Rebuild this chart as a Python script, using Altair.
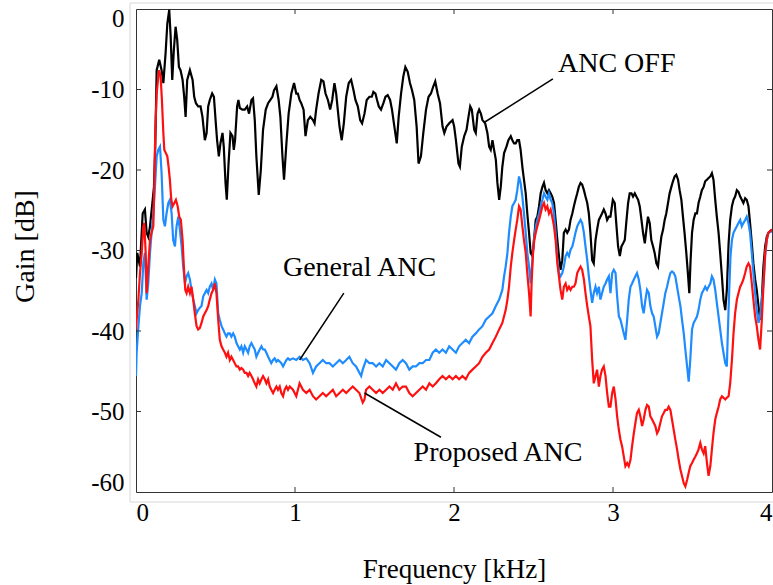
import altair as alt
import pandas as pd

# ---------------- data ----------------
off_freq = [
    0.000, 0.008, 0.025, 0.042, 0.056, 0.067, 0.077, 0.088, 0.105, 0.113, 0.121, 0.130, 0.146, 0.161, 0.172,
    0.186, 0.197, 0.209, 0.218, 0.228, 0.238, 0.249, 0.259, 0.270, 0.280, 0.293, 0.303, 0.312, 0.322, 0.339,
    0.356, 0.366, 0.377, 0.391, 0.406, 0.418, 0.433, 0.444, 0.454, 0.464, 0.479, 0.490, 0.502, 0.510, 0.521,
    0.531, 0.544, 0.552, 0.563, 0.571, 0.582, 0.594, 0.607, 0.615, 0.623, 0.636, 0.644, 0.653, 0.669, 0.684,
    0.699, 0.711, 0.726, 0.736, 0.747, 0.757, 0.772, 0.785, 0.799, 0.816, 0.831, 0.845, 0.858, 0.868, 0.883,
    0.897, 0.908, 0.921, 0.931, 0.946, 0.960, 0.977, 0.994, 1.008,
    1.018, 1.029, 1.039, 1.054, 1.066, 1.081, 1.096, 1.113, 1.123, 1.133, 1.148, 1.165, 1.179, 1.192, 1.207,
    1.221, 1.234, 1.248, 1.259, 1.269, 1.280, 1.294, 1.307, 1.322, 1.338, 1.353, 1.368, 1.380, 1.395, 1.410,
    1.422, 1.437, 1.451, 1.468, 1.483, 1.493, 1.506, 1.516, 1.527, 1.541, 1.556, 1.569, 1.583, 1.598, 1.610,
    1.625, 1.640, 1.652, 1.667, 1.681, 1.694, 1.709, 1.723, 1.736, 1.750, 1.765, 1.777, 1.792, 1.807, 1.824,
    1.840, 1.855, 1.870, 1.882, 1.897, 1.912, 1.928, 1.939, 1.953, 1.970,
    1.991, 2.001, 2.012, 2.028, 2.037, 2.049, 2.064, 2.079, 2.091, 2.102, 2.112, 2.127, 2.137, 2.148, 2.158,
    2.169, 2.179, 2.196, 2.210, 2.221, 2.231, 2.242, 2.252, 2.263, 2.273, 2.284, 2.294, 2.304, 2.315, 2.330,
    2.342, 2.357, 2.367, 2.378, 2.388, 2.398, 2.409, 2.419, 2.430, 2.440, 2.451, 2.461, 2.472, 2.482, 2.493,
    2.503, 2.514, 2.524, 2.535, 2.545, 2.556, 2.566, 2.576, 2.587, 2.597, 2.608, 2.618, 2.629, 2.639, 2.650,
    2.660, 2.670, 2.681, 2.691, 2.702, 2.712, 2.723, 2.733, 2.744, 2.754, 2.764, 2.775, 2.785, 2.796, 2.806,
    2.817, 2.827, 2.838, 2.848, 2.858, 2.869, 2.879, 2.890, 2.900, 2.911, 2.921, 2.931, 2.942, 2.953, 2.963,
    2.974,
    2.984, 2.999, 3.011, 3.022, 3.032, 3.043, 3.053, 3.064, 3.074, 3.085, 3.095, 3.105, 3.116, 3.126, 3.137,
    3.147, 3.158, 3.168, 3.179, 3.189, 3.200, 3.210, 3.220, 3.231, 3.241, 3.252, 3.262, 3.273, 3.283, 3.294,
    3.304, 3.315, 3.325, 3.335, 3.346, 3.356, 3.367, 3.377, 3.388, 3.398, 3.409, 3.419, 3.430, 3.440, 3.450,
    3.461, 3.471, 3.480, 3.488, 3.497, 3.507, 3.518, 3.528, 3.538, 3.549, 3.559, 3.570, 3.580, 3.591, 3.601,
    3.612, 3.622, 3.632, 3.643, 3.653, 3.664, 3.674, 3.685, 3.695, 3.706, 3.716, 3.727, 3.737, 3.748, 3.758,
    3.768, 3.779, 3.789, 3.800, 3.810, 3.820, 3.831, 3.841, 3.852, 3.862, 3.873, 3.883, 3.894, 3.904, 3.915,
    3.925, 3.936, 3.946, 3.957, 3.967, 3.977, 4.000,
]
off_gain = [
    -33.4, -30.3, -32.0, -25.4, -24.9, -27.8, -28.3, -27.0, -23.7, -22.1, -17.1, -7.6, -6.3, -7.6, -9.2,
    -5.5, -1.8, -0.1, -3.4, -8.8, -5.1, -2.2, -3.8, -7.2, -7.6, -8.8, -10.9, -13.4, -8.8, -7.6,
    -8.8, -10.9, -11.7, -12.1, -12.1, -13.4, -16.3, -15.4, -12.1, -11.3, -10.5, -10.9, -14.2, -16.3, -18.3,
    -16.7, -15.4, -17.1, -21.6, -23.7, -19.2, -15.4, -15.8, -17.5, -16.3, -12.1, -11.3, -12.3, -12.5, -12.5,
    -12.1, -13.0, -11.3, -11.1, -13.8, -18.3, -23.1, -20.0, -15.0, -12.5, -11.7, -11.3, -10.9, -10.1, -9.6,
    -11.3, -13.4, -18.3, -21.2, -16.7, -13.0, -10.5, -9.2, -10.5,
    -10.5, -11.3, -11.7, -12.5, -15.8, -13.8, -13.4, -13.8, -14.2, -12.5, -10.5, -8.8, -9.0, -10.5, -11.3,
    -12.5, -11.3, -9.2, -10.5, -12.5, -14.6, -16.3, -14.2, -10.9, -9.2, -8.8, -10.1, -11.3, -12.1, -13.8,
    -14.2, -13.0, -11.3, -10.9, -10.9, -10.3, -10.5, -11.3, -12.1, -12.5, -11.7, -10.9, -10.7, -11.3, -12.5,
    -14.6, -16.7, -13.4, -10.5, -8.4, -7.2, -7.8, -9.2, -10.1, -11.3, -14.6, -19.2, -18.3, -15.4, -12.5,
    -10.9, -10.5, -9.6, -9.0, -10.5, -11.7, -14.6, -15.4, -14.6, -14.2,
    -13.8, -14.6, -16.3, -19.2, -19.6, -17.1, -15.8, -15.0, -13.4, -12.1, -12.5, -15.0, -15.4, -13.0, -12.5,
    -13.0, -13.8, -14.2, -15.4, -17.1, -17.5, -16.3, -17.5, -18.7, -21.6, -23.7, -22.1, -19.6, -17.9, -17.1,
    -16.3, -15.8, -16.3, -16.7, -16.7, -16.3, -16.3, -17.5, -19.6, -21.2, -22.9, -25.4, -27.8, -30.3, -30.7,
    -28.7, -26.2, -25.8, -24.5, -22.9, -22.1, -21.6, -22.5, -22.9, -22.5, -22.9, -23.3, -24.1, -26.2, -28.7,
    -30.7, -32.4, -31.2, -27.8, -27.4, -27.8, -27.4, -26.2, -25.4, -24.5, -23.7, -22.9, -22.1, -21.6, -21.8,
    -22.5, -23.3, -24.1, -25.4, -27.8, -31.2, -31.6, -28.7, -27.4, -26.2, -25.8, -25.4, -24.9, -25.4, -26.2,
    -25.8,
    -25.8, -23.7, -24.1, -27.0, -29.5, -30.7, -29.5, -29.1, -28.7, -26.2, -24.1, -22.9, -22.9, -23.3, -22.9,
    -23.3, -23.7, -24.5, -26.2, -27.8, -29.1, -27.4, -25.8, -26.6, -28.7, -29.5, -30.3, -31.6, -32.0, -29.9,
    -28.3, -27.4, -26.2, -25.4, -24.1, -22.9, -22.1, -21.4, -20.8, -20.6, -21.2, -22.5, -23.7, -25.8, -27.8,
    -30.3, -32.8, -35.3, -31.2, -27.8, -26.2, -25.4, -25.4, -24.1, -23.3, -22.5, -22.1, -21.4, -21.2, -21.0,
    -20.8, -20.4, -21.2, -23.7, -25.8, -27.8, -30.3, -33.2, -36.1, -37.4, -34.9, -29.1, -26.2, -24.5, -23.7,
    -23.3, -22.5, -22.7, -23.3, -23.7, -24.1, -23.5, -23.7, -24.5, -26.6, -29.1, -31.6, -33.6, -34.9, -36.9,
    -38.6, -36.1, -32.0, -29.5, -28.3, -27.8, -27.4,
]

general_freq = [
    0.000, 0.004, 0.015, 0.025, 0.036, 0.046, 0.056, 0.067, 0.077, 0.088, 0.098, 0.109, 0.119, 0.130, 0.140,
    0.151, 0.161, 0.172, 0.182, 0.192, 0.203, 0.213, 0.224, 0.234, 0.245, 0.255, 0.266, 0.276, 0.287, 0.297,
    0.308, 0.318, 0.328, 0.339, 0.349, 0.360, 0.370, 0.381, 0.391, 0.402, 0.412, 0.423, 0.433, 0.444, 0.454,
    0.464, 0.475, 0.485, 0.496, 0.506, 0.517, 0.527, 0.538, 0.548, 0.559, 0.569, 0.579, 0.590, 0.600, 0.611,
    0.621, 0.632, 0.642, 0.653, 0.663, 0.674, 0.684, 0.695, 0.705, 0.715, 0.726, 0.736, 0.747, 0.757, 0.768,
    0.778, 0.789, 0.799, 0.810, 0.820, 0.831, 0.841, 0.851, 0.862, 0.872, 0.883, 0.893, 0.904, 0.914, 0.925,
    0.935, 0.946, 0.956, 0.967, 0.987, 1.008,
    1.029, 1.050, 1.071, 1.092, 1.113, 1.133, 1.154, 1.175, 1.196, 1.217, 1.238, 1.259, 1.280, 1.301, 1.322,
    1.342, 1.363, 1.384, 1.405, 1.416, 1.426, 1.447, 1.468, 1.489, 1.510, 1.531, 1.552, 1.573, 1.594, 1.615,
    1.635, 1.656, 1.677, 1.698, 1.719, 1.740, 1.761, 1.782, 1.803, 1.824, 1.845, 1.866, 1.886, 1.907, 1.928,
    1.949, 1.970,
    2.012, 2.032, 2.053, 2.074, 2.095, 2.116, 2.137, 2.158, 2.179, 2.200, 2.221, 2.242, 2.263, 2.284, 2.304,
    2.315, 2.325, 2.336, 2.346, 2.357, 2.367, 2.378, 2.388, 2.398, 2.409, 2.419, 2.430, 2.440, 2.451, 2.461,
    2.472, 2.482, 2.493, 2.503, 2.514, 2.524, 2.535, 2.545, 2.556, 2.566, 2.576, 2.587, 2.597, 2.608, 2.618,
    2.629, 2.639, 2.650, 2.660, 2.670, 2.681, 2.691, 2.702, 2.712, 2.723, 2.733, 2.744, 2.754, 2.764, 2.775,
    2.785, 2.796, 2.806, 2.817, 2.827, 2.838, 2.848, 2.858, 2.869, 2.879, 2.890, 2.900, 2.911, 2.921, 2.931,
    2.942, 2.953, 2.963, 2.974,
    2.984, 2.995, 3.005, 3.016, 3.026, 3.037, 3.047, 3.057, 3.068, 3.078, 3.089, 3.099, 3.110, 3.120, 3.131,
    3.141, 3.151, 3.162, 3.172, 3.183, 3.193, 3.204, 3.214, 3.225, 3.235, 3.246, 3.256, 3.266, 3.277, 3.287,
    3.298, 3.308, 3.319, 3.329, 3.340, 3.350, 3.361, 3.371, 3.382, 3.392, 3.403, 3.413, 3.424, 3.434, 3.445,
    3.455, 3.466, 3.476, 3.486, 3.497, 3.507, 3.518, 3.528, 3.538, 3.549, 3.559, 3.570, 3.580, 3.591, 3.601,
    3.612, 3.622, 3.632, 3.643, 3.653, 3.664, 3.674, 3.685, 3.695, 3.706, 3.716, 3.722, 3.731, 3.739, 3.748,
    3.758, 3.768, 3.779, 3.789, 3.800, 3.810, 3.820, 3.831, 3.841, 3.852, 3.862, 3.873, 3.883, 3.894, 3.904,
    3.915, 3.925, 3.936, 3.946, 3.957, 3.967, 3.977, 4.000,
]
general_gain = [
    -45.6, -42.7, -39.4, -36.9, -35.3, -31.6, -30.3, -36.1, -34.1, -30.3, -27.8, -25.4, -22.1, -18.3, -17.5,
    -17.1, -20.4, -26.2, -27.0, -25.4, -24.1, -23.7, -25.4, -28.7, -29.5, -27.0, -25.8, -27.4, -29.5, -32.0,
    -34.1, -33.2, -32.8, -33.6, -34.9, -36.1, -36.9, -37.8, -37.4, -37.1, -36.9, -35.7, -35.3, -34.9, -35.3,
    -34.5, -34.1, -34.9, -33.6, -34.1, -37.8, -38.6, -39.4, -39.8, -40.3, -40.7, -40.3, -40.3, -40.7, -40.3,
    -40.7, -41.5, -41.9, -42.3, -41.9, -42.7, -41.9, -42.3, -42.7, -41.9, -41.5, -41.9, -42.3, -43.2, -42.7,
    -42.3, -41.9, -42.3, -42.3, -42.7, -43.2, -43.6, -44.0, -43.6, -43.4, -43.8, -43.6, -43.8, -44.0, -44.4,
    -44.0, -43.6, -43.4, -43.6, -43.4, -43.6,
    -43.2, -43.6, -43.4, -44.0, -45.2, -44.4, -44.0, -43.6, -44.0, -44.0, -44.4, -44.0, -43.6, -44.0, -43.6,
    -43.2, -44.0, -44.4, -45.2, -45.6, -44.8, -43.6, -44.0, -44.0, -44.4, -44.0, -44.4, -43.6, -44.0, -44.4,
    -44.8, -44.0, -43.6, -44.0, -44.8, -44.4, -44.4, -44.0, -44.0, -43.6, -43.6, -42.7, -42.3, -42.7, -42.3,
    -42.7, -41.9,
    -42.7, -41.9, -41.5, -41.1, -41.5, -40.7, -40.3, -39.8, -39.4, -38.6, -38.2, -37.8, -36.9, -36.1, -34.9,
    -33.2, -32.0, -30.3, -27.8, -25.8, -24.5, -24.1, -23.7, -22.5, -20.8, -21.6, -23.3, -25.4, -27.8, -30.3,
    -32.0, -34.1, -31.2, -28.7, -27.0, -26.2, -25.4, -24.5, -23.7, -22.9, -23.3, -23.7, -22.9, -23.7, -24.1,
    -25.4, -27.8, -31.2, -32.8, -33.2, -32.8, -32.0, -30.7, -30.3, -30.7, -29.9, -29.5, -28.7, -27.8, -27.0,
    -26.6, -26.2, -26.6, -27.8, -29.5, -31.2, -33.2, -34.9, -36.5, -35.3, -34.5, -35.3, -34.5, -36.1, -35.3,
    -34.5, -34.1, -33.6, -33.2,
    -35.3, -32.8, -32.4, -32.8, -35.7, -38.2, -38.6, -39.4, -40.3, -41.1, -38.6, -36.1, -34.5, -34.1, -33.6,
    -33.2, -32.8, -33.6, -34.9, -36.9, -37.8, -36.1, -34.9, -35.3, -36.9, -37.8, -38.2, -39.4, -40.7, -40.3,
    -39.0, -37.8, -36.5, -35.3, -34.5, -33.6, -32.8, -32.6, -32.8, -33.2, -34.5, -35.7, -36.9, -38.6, -40.3,
    -42.3, -44.4, -46.3, -43.6, -39.8, -39.0, -38.6, -38.2, -37.4, -36.1, -35.3, -34.9, -34.5, -34.9, -34.5,
    -34.1, -33.2, -33.6, -34.9, -36.5, -38.2, -39.8, -41.5, -42.7, -44.0, -44.4, -40.3, -34.9, -30.7, -28.7,
    -27.8, -27.4, -27.0, -26.6, -26.2, -27.0, -26.6, -26.2, -25.8, -26.6, -27.8, -30.3, -32.8, -35.3, -37.4,
    -39.0, -38.2, -36.1, -34.1, -30.7, -28.7, -27.8, -27.6,
]

proposed_freq = [
    0.000, 0.004, 0.015, 0.025, 0.036, 0.046, 0.052, 0.061, 0.067, 0.077, 0.088, 0.098, 0.109, 0.115, 0.121,
    0.130, 0.140, 0.146, 0.155, 0.163, 0.172, 0.178, 0.188, 0.197, 0.205, 0.213, 0.222, 0.230, 0.241, 0.251,
    0.262, 0.272, 0.282, 0.293, 0.301, 0.310, 0.318, 0.328, 0.339, 0.349, 0.360, 0.370, 0.381, 0.391, 0.402,
    0.412, 0.423, 0.433, 0.444, 0.454, 0.464, 0.475, 0.485, 0.496, 0.506, 0.517, 0.527, 0.538, 0.548, 0.559,
    0.569, 0.579, 0.590, 0.600, 0.611, 0.621, 0.632, 0.642, 0.653, 0.663, 0.674, 0.684, 0.695, 0.705, 0.715,
    0.726, 0.736, 0.747, 0.757, 0.768, 0.778, 0.789, 0.799, 0.810, 0.820, 0.831, 0.841, 0.851, 0.862, 0.872,
    0.883, 0.893, 0.904, 0.914, 0.925, 0.935, 0.946, 0.956, 0.967, 0.987, 1.008,
    1.029, 1.050, 1.071, 1.092, 1.113, 1.133, 1.154, 1.175, 1.196, 1.217, 1.238, 1.259, 1.280, 1.301, 1.322,
    1.342, 1.363, 1.384, 1.405, 1.426, 1.437, 1.447, 1.468, 1.489, 1.510, 1.531, 1.552, 1.573, 1.594, 1.615,
    1.635, 1.656, 1.677, 1.698, 1.719, 1.740, 1.761, 1.782, 1.803, 1.824, 1.845, 1.866, 1.886, 1.907, 1.928,
    1.949, 1.970,
    1.991, 2.012, 2.032, 2.053, 2.074, 2.095, 2.116, 2.137, 2.158, 2.179, 2.200, 2.221, 2.242, 2.263, 2.284,
    2.304, 2.325, 2.336, 2.346, 2.357, 2.367, 2.378, 2.388, 2.398, 2.409, 2.419, 2.430, 2.440, 2.451, 2.461,
    2.472, 2.482, 2.488, 2.497, 2.505, 2.514, 2.524, 2.535, 2.545, 2.556, 2.566, 2.576, 2.587, 2.597, 2.608,
    2.618, 2.629, 2.639, 2.650, 2.660, 2.670, 2.681, 2.691, 2.702, 2.712, 2.723, 2.733, 2.744, 2.754, 2.764,
    2.775, 2.785, 2.796, 2.806, 2.817, 2.827, 2.838, 2.848, 2.858, 2.869, 2.879, 2.890, 2.900, 2.911, 2.921,
    2.931, 2.942, 2.953, 2.963, 2.974,
    2.984, 2.995, 3.005, 3.016, 3.026, 3.037, 3.047, 3.057, 3.068, 3.078, 3.089, 3.099, 3.110, 3.120, 3.131,
    3.141, 3.151, 3.162, 3.172, 3.183, 3.193, 3.204, 3.214, 3.225, 3.235, 3.246, 3.256, 3.266, 3.277, 3.287,
    3.298, 3.308, 3.319, 3.329, 3.340, 3.350, 3.361, 3.371, 3.382, 3.392, 3.403, 3.413, 3.424, 3.434, 3.445,
    3.455, 3.466, 3.476, 3.486, 3.497, 3.507, 3.518, 3.528, 3.538, 3.549, 3.559, 3.570, 3.580, 3.591, 3.601,
    3.612, 3.622, 3.632, 3.643, 3.653, 3.664, 3.674, 3.685, 3.695, 3.706, 3.716, 3.727, 3.737, 3.748, 3.758,
    3.768, 3.779, 3.789, 3.800, 3.810, 3.820, 3.831, 3.841, 3.852, 3.862, 3.873, 3.883, 3.894, 3.904, 3.915,
    3.925, 3.936, 3.946, 3.957, 3.967, 3.977, 4.000,
]
proposed_gain = [
    -39.8, -38.6, -36.1, -32.8, -30.3, -27.0, -26.6, -30.3, -35.3, -32.0, -28.7, -27.8, -27.0, -22.1, -15.4,
    -10.5, -8.4, -7.6, -8.4, -11.3, -15.4, -17.5, -17.9, -18.3, -19.6, -21.2, -23.7, -24.5, -24.1, -23.7,
    -24.5, -25.8, -26.2, -28.7, -32.0, -34.9, -35.3, -34.5, -35.3, -34.5, -36.1, -37.8, -39.4, -39.8, -39.6,
    -39.0, -38.2, -37.8, -37.4, -36.9, -36.1, -35.3, -34.9, -34.1, -35.3, -38.6, -41.1, -41.9, -42.3, -42.7,
    -43.2, -42.7, -43.6, -43.2, -43.6, -44.0, -44.4, -44.4, -44.8, -44.6, -44.8, -45.2, -45.2, -45.6, -45.2,
    -45.6, -46.0, -46.5, -46.9, -46.0, -46.5, -46.0, -45.6, -46.0, -46.5, -46.0, -46.9, -47.3, -47.7, -47.3,
    -46.9, -47.3, -46.9, -47.7, -48.1, -47.3, -46.9, -47.3, -46.9, -47.3, -48.1,
    -46.5, -47.3, -47.7, -47.3, -48.1, -48.5, -48.1, -47.7, -48.1, -47.7, -47.3, -48.1, -47.7, -47.3, -47.7,
    -47.3, -46.9, -47.3, -47.7, -48.9, -48.5, -47.3, -46.9, -47.3, -47.7, -47.3, -47.7, -47.3, -46.9, -47.3,
    -46.5, -47.3, -46.9, -46.9, -47.7, -48.1, -47.7, -47.3, -46.9, -47.3, -46.5, -46.9, -46.5, -46.0, -45.6,
    -46.0, -45.6,
    -46.0, -45.6, -46.0, -45.6, -46.0, -45.2, -44.8, -44.4, -44.0, -43.2, -42.7, -42.3, -41.5, -40.7, -39.8,
    -39.0, -37.4, -36.1, -34.5, -32.0, -30.3, -28.7, -27.4, -26.2, -24.5, -24.9, -27.0, -28.7, -30.3, -32.8,
    -35.3, -38.2, -34.1, -30.3, -28.7, -27.8, -27.0, -26.2, -25.4, -24.5, -24.1, -24.9, -24.5, -25.4, -24.9,
    -25.8, -27.0, -28.7, -31.6, -33.2, -34.9, -36.1, -34.5, -34.1, -34.9, -34.5, -34.9, -34.5, -34.5, -34.1,
    -32.8, -32.4, -32.0, -32.4, -33.6, -35.3, -36.9, -38.2, -39.4, -43.6, -46.5, -45.6, -44.8, -46.9, -45.6,
    -44.8, -44.4, -45.6, -47.7, -49.4,
    -49.4, -47.7, -46.9, -48.5, -50.6, -52.3, -53.5, -54.3, -55.6, -56.8, -56.4, -56.8, -56.0, -54.3, -52.7,
    -51.4, -50.2, -49.8, -50.6, -51.8, -51.0, -49.8, -49.2, -49.4, -50.6, -51.0, -51.4, -51.8, -52.7, -52.3,
    -51.4, -50.6, -50.2, -49.8, -49.8, -49.4, -49.8, -51.0, -52.3, -53.5, -54.7, -56.0, -57.2, -58.0, -58.9,
    -59.3, -58.5, -57.6, -56.8, -56.4, -56.0, -55.6, -55.2, -54.7, -53.9, -54.7, -55.2, -54.3, -56.4, -58.0,
    -56.8, -54.7, -52.7, -51.0, -50.2, -49.4, -48.5, -48.1, -48.3, -48.5, -48.3, -48.1, -46.5, -43.6, -40.3,
    -37.8, -36.1, -35.3, -34.5, -34.1, -33.6, -32.8, -32.0, -31.6, -32.0, -34.1, -36.1, -38.2, -39.4, -41.1,
    -42.3, -38.6, -34.5, -30.3, -28.7, -27.8, -27.4,
]

series_names = ["ANC OFF", "General ANC", "Proposed ANC"]
series_colors = ["#000000", "#1E8CFF", "#FF1010"]

# annotation labels and leader lines
label_text = ["ANC OFF", "General ANC", "Proposed ANC"]
label_freq = [2.654, 0.924, 1.746]
label_gain = [-7.8, -33.15, -56.2]
leader_f1 = [2.622, 1.307, 1.918]
leader_g1 = [-8.69, -35.3, -53.2]
leader_f2 = [2.189, 1.029, 1.437]
leader_g2 = [-14.1, -43.6, -47.7]

x_tick_values = [0, 1, 2, 3, 4]
y_tick_values = [0, -10, -20, -30, -40, -50, -60]
x_inner_ticks = [1, 2, 3]
y_inner_ticks = [-10, -20, -30, -40, -50]

# ---------------- chart ----------------
W, H = 636, 483
FONT = "Liberation Serif"
FRAME = "#333333"

x_scale = alt.Scale(domain=[0, 4], nice=False, zero=False)
y_scale = alt.Scale(domain=[-60, 0], nice=False, zero=False)

x_axis = alt.Axis(
    values=x_tick_values, labelExpr="'' + datum.value", labelFlush=True,
    ticks=False, tickSize=0, domain=False, grid=False,
    labelFont=FONT, labelFontSize=25, labelColor="black", labelPadding=8,
    title="Frequency [kHz]", titleFont=FONT, titleFontSize=27, titleFontWeight="normal",
    titleColor="black", titleY=85, titleBaseline="alphabetic",
)
y_axis = alt.Axis(
    values=y_tick_values, labelExpr="'' + datum.value", labelFlush=True, labelFlushOffset=3,
    ticks=False, tickSize=0, domain=False, grid=False,
    labelFont=FONT, labelFontSize=25, labelColor="black", labelPadding=12,
    title="Gain [dB]", titleFont=FONT, titleFontSize=28, titleFontWeight="normal",
    titleColor="black", titleX=-103, titleY=237, titleBaseline="alphabetic", titleAngle=270,
)

X = lambda f: alt.X(f, type="quantitative", scale=x_scale, axis=x_axis)
Y = lambda f: alt.Y(f, type="quantitative", scale=y_scale, axis=y_axis)


def line_layer(freq, gain, color):
    df = pd.DataFrame({"freq": freq, "gain": gain})
    return alt.Chart(df).mark_line(color=color, strokeWidth=2.2, clip=True).encode(
        x=X("freq"), y=Y("gain"), order="freq:Q"
    )


lines = [
    line_layer(off_freq, off_gain, series_colors[0]),
    line_layer(general_freq, general_gain, series_colors[1]),
    line_layer(proposed_freq, proposed_gain, series_colors[2]),
]

labels_df = pd.DataFrame({"text": label_text, "freq": label_freq, "gain": label_gain})
labels = alt.Chart(labels_df).mark_text(
    align="left", baseline="alphabetic", font=FONT, fontSize=28, color="black"
).encode(x=X("freq"), y=Y("gain"), text="text:N")

leader_df = pd.DataFrame({"f1": leader_f1, "g1": leader_g1, "f2": leader_f2, "g2": leader_g2})
leaders = alt.Chart(leader_df).mark_rule(color="black", strokeWidth=1.5).encode(
    x=X("f1"), y=Y("g1"), x2="f2:Q", y2="g2:Q"
)

xt_df = pd.DataFrame({"freq": x_inner_ticks})
yt_df = pd.DataFrame({"gain": y_inner_ticks})
tick_style = dict(color=FRAME, strokeWidth=1)
ticks_bottom = alt.Chart(xt_df).mark_rule(**tick_style).encode(
    x=X("freq"), y=alt.value(H), y2=alt.value(H - 5))
ticks_top = alt.Chart(xt_df).mark_rule(**tick_style).encode(
    x=X("freq"), y=alt.value(0), y2=alt.value(5))
ticks_left = alt.Chart(yt_df).mark_rule(**tick_style).encode(
    y=Y("gain"), x=alt.value(0), x2=alt.value(5))
ticks_right = alt.Chart(yt_df).mark_rule(**tick_style).encode(
    y=Y("gain"), x=alt.value(W - 5), x2=alt.value(W))

outer = alt.Chart(pd.DataFrame({"k": [0]})).mark_rect(
    fillOpacity=0, stroke="#d8d8d8", strokeWidth=1
).encode(x=alt.value(-6), x2=alt.value(W + 80), y=alt.value(-6), y2=alt.value(H + 10))

chart = alt.layer(
    outer, *lines, leaders, labels, ticks_bottom, ticks_top, ticks_left, ticks_right
).properties(
    width=W, height=H,
    autosize=alt.AutoSizeParams(type="none"),
    padding={"left": 136, "top": 9, "right": 1, "bottom": 93},
    background="white",
).configure_view(stroke=FRAME, strokeWidth=1)

chart.save("out.html", embed_options={"renderer": "svg", "actions": False})
